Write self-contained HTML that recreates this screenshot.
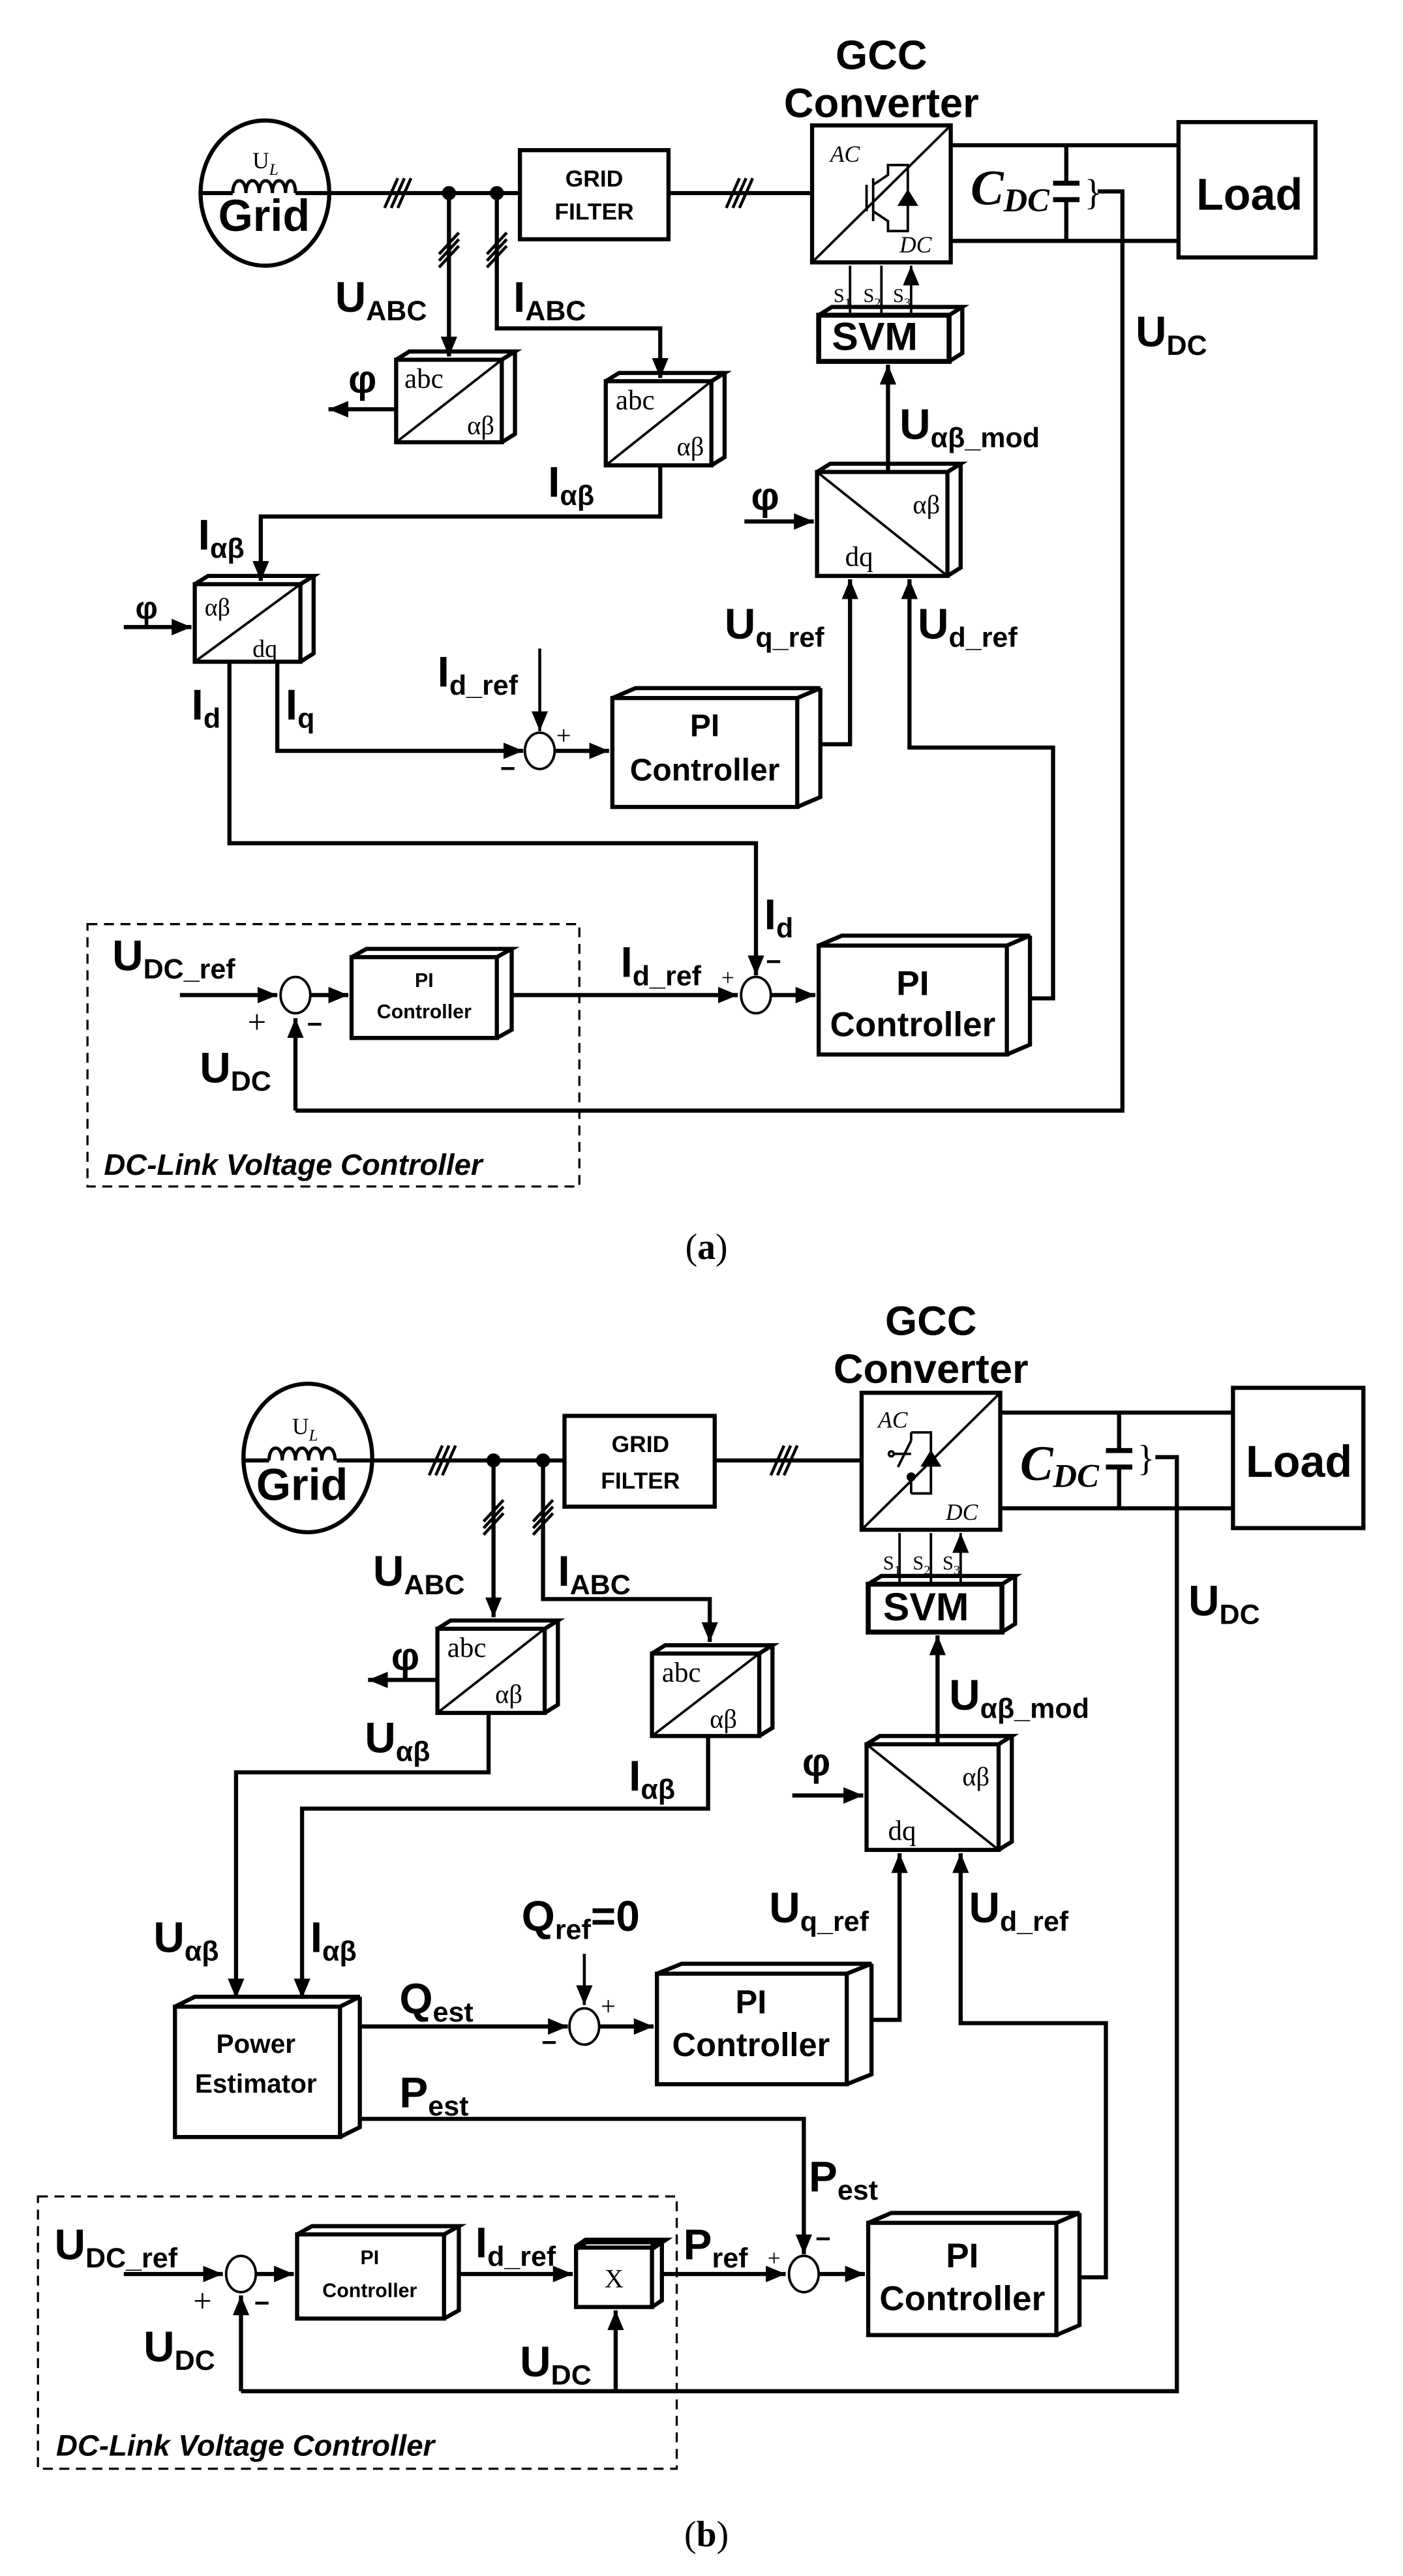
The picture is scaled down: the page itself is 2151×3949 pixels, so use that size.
<!DOCTYPE html>
<html><head><meta charset="utf-8"><style>
html,body{margin:0;padding:0;background:#fff}
svg{display:block}
text{font-family:"Liberation Sans",Arial,sans-serif;font-weight:bold;fill:#000}
.s{font-family:"Liberation Serif",serif;font-weight:normal}
.L{font-size:26px}
.sub{font-size:17px}
</style></head><body>
<svg width="2151" height="3949" viewBox="0 0 850 1561" preserveAspectRatio="none" xmlns="http://www.w3.org/2000/svg">
<defs>
<marker id="a" markerUnits="userSpaceOnUse" markerWidth="14" markerHeight="10" refX="12" refY="5" orient="auto"><path d="M0,0 L12,5 L0,10 z" fill="#000"/></marker>
</defs>
<g fill="none" stroke="#000" stroke-width="2.5">

<!-- ============ (a) ============ -->
<ellipse cx="160.5" cy="117" rx="39" ry="44"/>
<path d="M122,117 H141 M179,117 H200" />
<path d="M141,117 c0,-10 8,-10 8,0 c0,-10 8,-10 8,0 c0,-10 8,-10 8,0 c0,-10 8,-10 8,0 c0,-10 6,-10 6,0" stroke-width="2"/>
<path d="M200,117 H315 M405,117 H492"/>
<path d="M233,126 L241,108 M237,126 L245,108 M241,126 L249,108 M440,126 L448,108 M444,126 L452,108 M448,126 L456,108" stroke-width="1.8"/>
<circle cx="272" cy="117" r="3" fill="#000"/><circle cx="301" cy="117" r="3" fill="#000"/>
<rect x="315" y="91" width="90" height="54"/>
<rect x="492" y="76" width="84" height="83"/>
<path d="M492,159 L576,76" stroke-width="1.5"/>
<g stroke-width="1.5"><path d="M525,112 V128 M529,108 V134 M529,112 L538,106 V100 H550 V140 H538 V134 L529,128"/><path d="M545,124 h10 M545,124 l5,-8 l5,8z" fill="#000"/></g>
<path d="M576,88 H714 M576,146 H714 M646,88 V111 M646,121 V146"/>
<path d="M638,111 H654 M638,121 H654" stroke-width="3"/>
<path d="M665,116 H680 V673 H179"/>
<path d="M179,673 V617" marker-end="url(#a)"/>
<rect x="714" y="74" width="83" height="82"/>
<path d="M515,191 V161 M534,191 V161 M552,191 V161" stroke-width="1.5" marker-end="url(#a)"/>
<rect x="496" y="191" width="79" height="28" stroke-width="3"/>
<path d="M496,191 l8,-5 h79 l-8,5 M583,186 v28 l-8,5"/>
<path d="M538,286 V221" marker-end="url(#a)"/>
<rect x="495" y="286" width="79" height="63"/>
<path d="M495,286 l8,-5 h79 l-8,5 M582,281 v63 l-8,5"/>
<path d="M495,286 L574,349" stroke-width="1.5"/>
<path d="M451,316 H493" marker-end="url(#a)"/>
<path d="M272,117 V216" marker-end="url(#a)"/>
<path d="M301,117 V199 H400 V229" marker-end="url(#a)"/>
<path d="M266,154 L278,141 M266,158 L278,145 M266,162 L278,149 M295,154 L307,141 M295,158 L307,145 M295,162 L307,149" stroke-width="1.8"/>
<rect x="240" y="218" width="64" height="50"/>
<path d="M240,218 l8,-5 h64 l-8,5 M312,213 v50 l-8,5"/>
<path d="M240,268 L304,218" stroke-width="1.5"/>
<path d="M240,248 H199" marker-end="url(#a)"/>
<rect x="367" y="231" width="64" height="51"/>
<path d="M367,231 l8,-5 h64 l-8,5 M439,226 v51 l-8,5"/>
<path d="M367,282 L431,231" stroke-width="1.5"/>
<path d="M400,282 V313 H158 V352" marker-end="url(#a)"/>
<rect x="118" y="354" width="64" height="47"/>
<path d="M118,354 l8,-5 h64 l-8,5 M190,349 v47 l-8,5"/>
<path d="M118,401 L182,354" stroke-width="1.5"/>
<path d="M75,380 H116" marker-end="url(#a)"/>
<path d="M168,401 V455 H317" marker-end="url(#a)"/>
<path d="M139,401 V511 H458 V591" marker-end="url(#a)"/>
<path d="M327,393 V443" stroke-width="1.8" marker-end="url(#a)"/>
<ellipse cx="327" cy="455" rx="9" ry="11" stroke-width="1.5"/>
<path d="M336,455 H369" marker-end="url(#a)"/>
<rect x="371" y="423" width="112" height="66"/>
<path d="M371,423 l14,-6 h112 l-14,6 M497,417 v66 l-14,6"/>
<path d="M497,451 H515 V351" marker-end="url(#a)"/>
<path d="M624,605 H638 V453 H551 V351" marker-end="url(#a)"/>
<ellipse cx="458" cy="603" rx="9" ry="11" stroke-width="1.5"/>
<path d="M310,603 H447" marker-end="url(#a)"/>
<path d="M467,603 H494" marker-end="url(#a)"/>
<rect x="496" y="573" width="114" height="66"/>
<path d="M496,573 l14,-6 h114 l-14,6 M624,567 v66 l-14,6"/>
<rect x="53" y="560" width="298" height="159" stroke-width="1.3" stroke-dasharray="6,4"/>
<ellipse cx="179" cy="603" rx="9" ry="11" stroke-width="1.5"/>
<path d="M109,603 H168" marker-end="url(#a)"/>
<path d="M188,603 H211" marker-end="url(#a)"/>
<rect x="213" y="580" width="88" height="49"/>
<path d="M213,580 l9,-5 h88 l-9,5 M310,575 v49 l-9,5"/>

<!-- ============ (b) ============ -->
<ellipse cx="186.5" cy="883.5" rx="39" ry="45"/>
<path d="M148,885 H163 M204,885 H226"/>
<path d="M163,885 c0,-10 8,-10 8,0 c0,-10 8,-10 8,0 c0,-10 8,-10 8,0 c0,-10 8,-10 8,0 c0,-10 8,-10 8,0" stroke-width="2"/>
<path d="M226,885 H342 M433,885 H522"/>
<path d="M260,894 L268,876 M264,894 L272,876 M268,894 L276,876 M467,894 L475,876 M471,894 L479,876 M475,894 L483,876" stroke-width="1.8"/>
<circle cx="299" cy="885" r="3" fill="#000"/><circle cx="329" cy="885" r="3" fill="#000"/>
<rect x="342" y="858" width="91" height="55"/>
<rect x="522" y="844" width="84" height="83"/>
<path d="M522,927 L606,844" stroke-width="1.5"/>
<g stroke-width="1.5"><path d="M542,881 h10 M552,873 V868 M552,873 l-8,16 M552,895 V905 M552,868 H564 V905 H552"/><circle cx="540" cy="881" r="1.5"/><circle cx="552" cy="895" r="2" fill="#000"/><path d="M559,888 h10 M559,888 l5,-8 l5,8z" fill="#000"/></g>
<path d="M606,856 H747 M606,914 H747 M678,856 V879 M678,889 V914"/>
<path d="M670,879 H686 M670,889 H686" stroke-width="3"/>
<path d="M700,883 H713 V1449 H146"/>
<path d="M146,1449 V1391" marker-end="url(#a)"/>
<path d="M373,1449 V1400" marker-end="url(#a)"/>
<rect x="747" y="841" width="79" height="85"/>
<path d="M545,960 V929 M564,960 V929 M582,960 V929" stroke-width="1.5" marker-end="url(#a)"/>
<rect x="526" y="960" width="81" height="29" stroke-width="3"/>
<path d="M526,960 l8,-5 h81 l-8,5 M615,955 v29 l-8,5"/>
<path d="M568,1057 V991" marker-end="url(#a)"/>
<rect x="525" y="1057" width="80" height="64"/>
<path d="M525,1057 l8,-5 h80 l-8,5 M613,1052 v64 l-8,5"/>
<path d="M525,1057 L605,1121" stroke-width="1.5"/>
<path d="M480,1088 H523" marker-end="url(#a)"/>
<path d="M299,885 V980" marker-end="url(#a)"/>
<path d="M329,885 V969 H430 V995" marker-end="url(#a)"/>
<path d="M293,922 L305,909 M293,926 L305,913 M293,930 L305,917 M323,922 L335,909 M323,926 L335,913 M323,930 L335,917" stroke-width="1.8"/>
<rect x="265" y="987" width="65" height="51"/>
<path d="M265,987 l8,-5 h65 l-8,5 M338,982 v51 l-8,5"/>
<path d="M265,1038 L330,987" stroke-width="1.5"/>
<path d="M265,1018 H223" marker-end="url(#a)"/>
<rect x="395" y="1002" width="65" height="50"/>
<path d="M395,1002 l8,-5 h65 l-8,5 M468,997 v50 l-8,5"/>
<path d="M395,1052 L460,1002" stroke-width="1.5"/>
<path d="M296,1038 V1074 H143 V1211" marker-end="url(#a)"/>
<path d="M429,1052 V1096 H183 V1211" marker-end="url(#a)"/>
<rect x="106" y="1216" width="100" height="79"/>
<path d="M106,1216 l12,-6 h100 l-12,6 M218,1210 v79 l-12,6"/>
<path d="M218,1228 H344" marker-end="url(#a)"/>
<path d="M354,1184 V1215" stroke-width="1.8" marker-end="url(#a)"/>
<ellipse cx="354" cy="1228" rx="9" ry="11" stroke-width="1.5"/>
<path d="M363,1228 H396" marker-end="url(#a)"/>
<rect x="398" y="1196" width="115" height="67"/>
<path d="M398,1196 l15,-6 h115 l-15,6 M528,1190 v67 l-15,6"/>
<path d="M528,1224 H545 V1123" marker-end="url(#a)"/>
<path d="M654,1380 H670 V1226 H582 V1123" marker-end="url(#a)"/>
<path d="M218,1284 H487 V1366" marker-end="url(#a)"/>
<ellipse cx="487" cy="1378" rx="9" ry="11" stroke-width="1.5"/>
<path d="M496,1378 H524" marker-end="url(#a)"/>
<rect x="526" y="1347" width="114" height="68"/>
<path d="M526,1347 l14,-6 h114 l-14,6 M654,1341 v68 l-14,6"/>
<rect x="23" y="1331" width="387" height="165" stroke-width="1.3" stroke-dasharray="6,4"/>
<ellipse cx="146" cy="1378" rx="9" ry="11" stroke-width="1.5"/>
<path d="M75,1378 H135" marker-end="url(#a)"/>
<path d="M155,1378 H178" marker-end="url(#a)"/>
<rect x="180" y="1354" width="89" height="51"/>
<path d="M180,1354 l9,-5 h89 l-9,5 M278,1349 v51 l-9,5"/>
<path d="M278,1378 H347" marker-end="url(#a)"/>
<rect x="349" y="1362" width="46" height="36"/>
<path d="M401,1358 v36 l-6,4" />
<path d="M349,1362 l6,-4 h46 l-6,4" stroke-width="4"/>
<path d="M401,1378 H476" marker-end="url(#a)"/>
</g>

<!-- ===== TEXT (a) ===== -->
<text x="534" y="42" font-size="25" text-anchor="middle">GCC</text>
<text x="534" y="71" font-size="25" text-anchor="middle">Converter</text>
<text x="153" y="102" class="s" font-size="14">U<tspan font-size="10" font-style="italic" dy="4">L</tspan></text>
<text x="160" y="140" font-size="27" text-anchor="middle">Grid</text>
<text x="360" y="113" font-size="14" text-anchor="middle">GRID</text>
<text x="360" y="133" font-size="14" text-anchor="middle">FILTER</text>
<text x="503" y="98" class="s" font-size="14" font-style="italic">AC</text>
<text x="545" y="153" class="s" font-size="14" font-style="italic">DC</text>
<text x="588" y="124" class="s" font-size="30" style="font-style:italic;font-weight:bold">C<tspan font-size="20" dy="4">DC</tspan></text>
<text x="657" y="124" class="s" font-size="22">}</text>
<text x="757" y="127" font-size="27" text-anchor="middle">Load</text>
<text x="505" y="183" class="s" font-size="12">S<tspan font-size="8" dy="3">1</tspan></text>
<text x="523" y="183" class="s" font-size="12">S<tspan font-size="8" dy="3">2</tspan></text>
<text x="541" y="183" class="s" font-size="12">S<tspan font-size="8" dy="3">3</tspan></text>
<text x="504" y="212" font-size="24">SVM</text>
<text x="688" y="210" class="L">U<tspan class="sub" dy="5">DC</tspan></text>
<text x="203" y="189" class="L">U<tspan class="sub" dy="5">ABC</tspan></text>
<text x="311" y="189" class="L">I<tspan class="sub" dy="5">ABC</tspan></text>
<text x="211" y="238" font-size="24">φ</text>
<text x="245" y="235" class="s" font-size="17">abc</text>
<text x="283" y="263" class="s" font-size="16">αβ</text>
<text x="373" y="248" class="s" font-size="17">abc</text>
<text x="410" y="276" class="s" font-size="16">αβ</text>
<text x="332" y="301" class="L">I<tspan class="sub" dy="5">αβ</tspan></text>
<text x="120" y="333" class="L">I<tspan class="sub" dy="5">αβ</tspan></text>
<text x="545" y="266" class="L">U<tspan class="sub" dy="5">αβ_mod</tspan></text>
<text x="455" y="309" font-size="24">φ</text>
<text x="553" y="311" class="s" font-size="16">αβ</text>
<text x="512" y="343" class="s" font-size="17">dq</text>
<text x="82" y="375" font-size="19">φ</text>
<text x="124" y="373" class="s" font-size="15">αβ</text>
<text x="153" y="398" class="s" font-size="15">dq</text>
<text x="439" y="387" class="L">U<tspan class="sub" dy="5">q_ref</tspan></text>
<text x="556" y="387" class="L">U<tspan class="sub" dy="5">d_ref</tspan></text>
<text x="116" y="436" class="L">I<tspan class="sub" dy="5">d</tspan></text>
<text x="173" y="436" class="L">I<tspan class="sub" dy="5">q</tspan></text>
<text x="265" y="416" class="L">I<tspan class="sub" dy="5">d_ref</tspan></text>
<text x="337" y="451" class="s" font-size="16">+</text>
<text x="303" y="471" font-size="16">−</text>
<text x="427" y="446" font-size="19" text-anchor="middle">PI</text>
<text x="427" y="473" font-size="19" text-anchor="middle">Controller</text>
<text x="463" y="563" class="L">I<tspan class="sub" dy="5">d</tspan></text>
<text x="464" y="588" font-size="16">−</text>
<text x="437" y="597" class="s" font-size="14">+</text>
<text x="376" y="592" class="L">I<tspan class="sub" dy="5">d_ref</tspan></text>
<text x="553" y="603" font-size="21" text-anchor="middle">PI</text>
<text x="553" y="628" font-size="21" text-anchor="middle">Controller</text>
<text x="68" y="588" class="L">U<tspan class="sub" dy="5">DC_ref</tspan></text>
<text x="150" y="626" class="s" font-size="20">+</text>
<text x="186" y="626" font-size="16">−</text>
<text x="257" y="598" font-size="12" text-anchor="middle">PI</text>
<text x="257" y="617" font-size="12" text-anchor="middle">Controller</text>
<text x="121" y="656" class="L">U<tspan class="sub" dy="5">DC</tspan></text>
<text x="63" y="712" font-size="18" font-style="italic">DC-Link Voltage Controller</text>
<text x="428" y="763" class="s" font-size="22" text-anchor="middle">(<tspan font-weight="bold">a</tspan>)</text>

<!-- ===== TEXT (b) ===== -->
<text x="564" y="809" font-size="25" text-anchor="middle">GCC</text>
<text x="564" y="838" font-size="25" text-anchor="middle">Converter</text>
<text x="177" y="869" class="s" font-size="14">U<tspan font-size="10" font-style="italic" dy="4">L</tspan></text>
<text x="183" y="909" font-size="27" text-anchor="middle">Grid</text>
<text x="388" y="880" font-size="14" text-anchor="middle">GRID</text>
<text x="388" y="902" font-size="14" text-anchor="middle">FILTER</text>
<text x="532" y="865" class="s" font-size="14" font-style="italic">AC</text>
<text x="573" y="921" class="s" font-size="14" font-style="italic">DC</text>
<text x="618" y="897" class="s" font-size="30" style="font-style:italic;font-weight:bold">C<tspan font-size="20" dy="4">DC</tspan></text>
<text x="689" y="891" class="s" font-size="22">}</text>
<text x="787" y="895" font-size="27" text-anchor="middle">Load</text>
<text x="535" y="951" class="s" font-size="12">S<tspan font-size="8" dy="3">1</tspan></text>
<text x="553" y="951" class="s" font-size="12">S<tspan font-size="8" dy="3">2</tspan></text>
<text x="571" y="951" class="s" font-size="12">S<tspan font-size="8" dy="3">3</tspan></text>
<text x="535" y="982" font-size="24">SVM</text>
<text x="720" y="979" class="L">U<tspan class="sub" dy="5">DC</tspan></text>
<text x="226" y="961" class="L">U<tspan class="sub" dy="5">ABC</tspan></text>
<text x="338" y="961" class="L">I<tspan class="sub" dy="5">ABC</tspan></text>
<text x="237" y="1012" font-size="24">φ</text>
<text x="271" y="1004" class="s" font-size="17">abc</text>
<text x="300" y="1032" class="s" font-size="16">αβ</text>
<text x="401" y="1019" class="s" font-size="17">abc</text>
<text x="430" y="1047" class="s" font-size="16">αβ</text>
<text x="221" y="1062" class="L">U<tspan class="sub" dy="5">αβ</tspan></text>
<text x="381" y="1085" class="L">I<tspan class="sub" dy="5">αβ</tspan></text>
<text x="575" y="1036" class="L">U<tspan class="sub" dy="5">αβ_mod</tspan></text>
<text x="486" y="1076" font-size="24">φ</text>
<text x="583" y="1082" class="s" font-size="16">αβ</text>
<text x="538" y="1115" class="s" font-size="17">dq</text>
<text x="466" y="1165" class="L">U<tspan class="sub" dy="5">q_ref</tspan></text>
<text x="587" y="1165" class="L">U<tspan class="sub" dy="5">d_ref</tspan></text>
<text x="316" y="1170" class="L">Q<tspan class="sub" dy="5">ref</tspan><tspan dy="-5">=0</tspan></text>
<text x="93" y="1183" class="L">U<tspan class="sub" dy="5">αβ</tspan></text>
<text x="188" y="1183" class="L">I<tspan class="sub" dy="5">αβ</tspan></text>
<text x="155" y="1244" font-size="16" text-anchor="middle">Power</text>
<text x="155" y="1268" font-size="16" text-anchor="middle">Estimator</text>
<text x="242" y="1220" class="L">Q<tspan class="sub" dy="5">est</tspan></text>
<text x="364" y="1221" class="s" font-size="16">+</text>
<text x="328" y="1243" font-size="16">−</text>
<text x="455" y="1220" font-size="20" text-anchor="middle">PI</text>
<text x="455" y="1246" font-size="20" text-anchor="middle">Controller</text>
<text x="242" y="1277" class="L">P<tspan class="sub" dy="5">est</tspan></text>
<text x="490" y="1328" class="L">P<tspan class="sub" dy="5">est</tspan></text>
<text x="494" y="1362" font-size="16">−</text>
<text x="465" y="1373" class="s" font-size="14">+</text>
<text x="583" y="1374" font-size="21" text-anchor="middle">PI</text>
<text x="583" y="1400" font-size="21" text-anchor="middle">Controller</text>
<text x="33" y="1369" class="L">U<tspan class="sub" dy="5">DC_ref</tspan></text>
<text x="117" y="1401" class="s" font-size="20">+</text>
<text x="154" y="1401" font-size="16">−</text>
<text x="224" y="1372" font-size="12" text-anchor="middle">PI</text>
<text x="224" y="1392" font-size="12" text-anchor="middle">Controller</text>
<text x="288" y="1368" class="L">I<tspan class="sub" dy="5">d_ref</tspan></text>
<text x="372" y="1386" class="s" font-size="16" text-anchor="middle">X</text>
<text x="414" y="1369" class="L">P<tspan class="sub" dy="5">ref</tspan></text>
<text x="87" y="1431" class="L">U<tspan class="sub" dy="5">DC</tspan></text>
<text x="315" y="1440" class="L">U<tspan class="sub" dy="5">DC</tspan></text>
<text x="34" y="1488" font-size="18" font-style="italic">DC-Link Voltage Controller</text>
<text x="428" y="1543" class="s" font-size="22" text-anchor="middle">(<tspan font-weight="bold">b</tspan>)</text>
</svg>
</body></html>
